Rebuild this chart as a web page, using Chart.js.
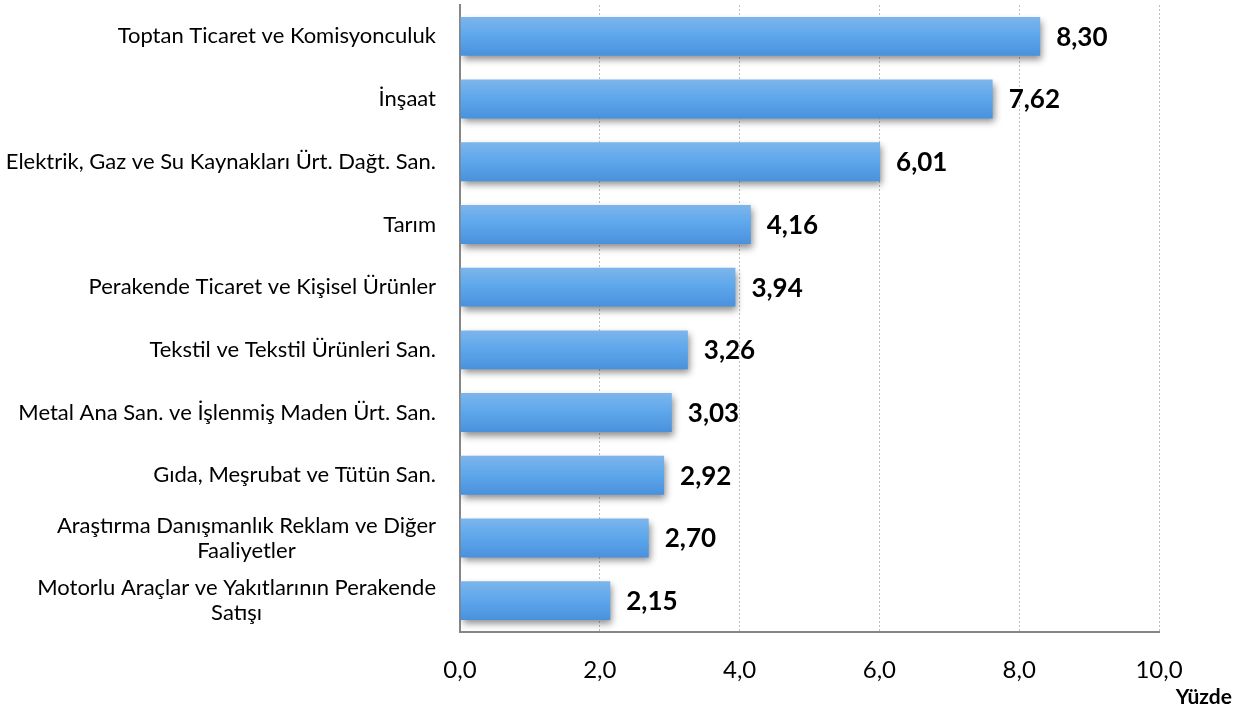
<!DOCTYPE html>
<html>
<head>
<meta charset="utf-8">
<script src="https://cdn.jsdelivr.net/npm/chart.js@4/dist/chart.umd.min.js"></script>
<style>
  html, body { margin: 0; padding: 0; background: #ffffff; }
  #wrap { width: 1247px; height: 710px; position: relative; }
</style>
</head>
<body>
<div id="wrap"><canvas id="c" width="1247" height="710"></canvas></div>
<script>
const categories = [
  ['Toptan Ticaret ve Komisyonculuk'],
  ['İnşaat'],
  ['Elektrik, Gaz ve Su Kaynakları Ürt. Dağt. San.'],
  ['Tarım'],
  ['Perakende Ticaret ve Kişisel Ürünler'],
  ['Tekstil ve Tekstil Ürünleri San.'],
  ['Metal Ana San. ve İşlenmiş Maden Ürt. San.'],
  ['Gıda, Meşrubat ve Tütün San.'],
  ['Araştırma Danışmanlık Reklam ve Diğer', 'Faaliyetler'],
  ['Motorlu Araçlar ve Yakıtlarının Perakende', 'Satışı']
];
const values = [8.30, 7.62, 6.01, 4.16, 3.94, 3.26, 3.03, 2.92, 2.70, 2.15];
const xTickLabels = ['0,0', '2,0', '4,0', '6,0', '8,0', '10,0'];
const unitLabel = 'Yüzde';

const FONT = 'Lato, "Open Sans", sans-serif';
const BAR_PCT = 0.62;

const customPlugin = {
  id: 'custom',
  beforeDatasetsDraw(chart) {
    const ctx = chart.ctx;
    ctx.save();
    ctx.shadowColor = 'rgba(0,0,0,0.45)';
    ctx.shadowBlur = 7;
    ctx.shadowOffsetX = 2;
    ctx.shadowOffsetY = 4;
  },
  afterDatasetsDraw(chart) {
    const ctx = chart.ctx;
    ctx.restore();
    const xs = chart.scales.x, ys = chart.scales.y;
    ctx.save();
    ctx.fillStyle = '#000000';
    ctx.font = 'bold 26px ' + FONT;
    ctx.textAlign = 'left';
    ctx.textBaseline = 'middle';
    values.forEach((v, i) => {
      const x = xs.getPixelForValue(v) + 16;
      const y = ys.getPixelForValue(i);
      ctx.fillText(v.toFixed(2).replace('.', ','), x, y + 1);
    });
    ctx.restore();
  },
  afterDraw(chart) {
    const ctx = chart.ctx;
    const ys = chart.scales.y;
    ctx.save();
    ctx.fillStyle = '#000000';
    ctx.font = '22px ' + FONT;
    ctx.textBaseline = 'middle';
    const rightX = chart.chartArea.left - 24;
    const lh = 25;
    categories.forEach((lines, i) => {
      const cy = ys.getPixelForValue(i);
      const n = lines.length;
      if (n === 1) {
        ctx.textAlign = 'right';
        ctx.fillText(lines[0], rightX, cy);
      } else {
        const w = Math.max(...lines.map(l => ctx.measureText(l).width));
        ctx.textAlign = 'center';
        lines.forEach((l, k) => {
          ctx.fillText(l, rightX - w / 2, cy + (k - (n - 1) / 2) * lh);
        });
      }
    });
    ctx.font = 'bold 21px ' + FONT;
    ctx.textAlign = 'right';
    ctx.fillText(unitLabel, 1232, 697);
    ctx.restore();
  }
};

new Chart(document.getElementById('c'), {
  type: 'bar',
  data: {
    labels: categories,
    datasets: [{
      data: values,
      backgroundColor: (c) => {
        const ch = c.chart;
        const ys = ch.scales.y;
        if (!ys || !ch.chartArea) return '#5ea6ea';
        const cy = ys.getPixelForValue(c.dataIndex);
        const h = (ys.height / categories.length) * BAR_PCT;
        const g = ch.ctx.createLinearGradient(0, cy - h / 2, 0, cy + h / 2);
        g.addColorStop(0, '#7db5eb');
        g.addColorStop(0.45, '#5fa8ec');
        g.addColorStop(1, '#4a91dc');
        return g;
      },
      borderWidth: 0,
      barPercentage: BAR_PCT,
      categoryPercentage: 1.0
    }]
  },
  options: {
    indexAxis: 'y',
    responsive: false,
    animation: false,
    devicePixelRatio: 1,
    layout: { padding: { left: 0, right: 88, top: 5, bottom: 0 } },
    plugins: { legend: { display: false }, tooltip: { enabled: false } },
    scales: {
      x: {
        min: 0, max: 10,
        ticks: {
          stepSize: 2,
          color: '#000000',
          font: { family: FONT, size: 24 },
          padding: 24,
          maxRotation: 0,
          callback: (v, i) => xTickLabels[i]
        },
        grid: {
          drawTicks: false,
          color: (c) => (c.tick && c.tick.value === 0) ? 'rgba(0,0,0,0)' : '#bdbdbd',
          lineWidth: 1
        },
        border: { display: true, color: '#868686', width: 2, dash: [2, 2] },
        afterFit: (s) => { s.height = 78; }
      },
      y: {
        ticks: { display: false },
        grid: { display: false, drawTicks: false },
        border: { display: true, color: '#868686', width: 2 },
        afterFit: (s) => { s.width = 460; }
      }
    }
  },
  plugins: [customPlugin]
});
</script>
</body>
</html>
